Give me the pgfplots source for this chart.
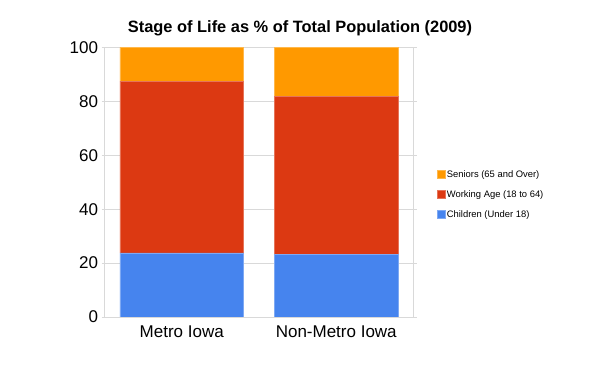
\documentclass[border=0pt]{standalone}
\usepackage{fontspec}
\setmainfont{Liberation Sans}
\usepackage{pgfplots}
\pgfplotsset{compat=1.18}
\definecolor{cSen}{HTML}{FF9900}
\definecolor{cWork}{HTML}{DC3912}
\definecolor{cChild}{HTML}{4684EE}
\definecolor{gridc}{HTML}{D9D9D9}
\begin{document}
\begin{tikzpicture}
\useasboundingbox (0pt,0pt) rectangle (596pt,374pt);
\node[font=\fontsize{16.4}{18}\selectfont\bfseries] at (300pt,345.5pt) {Stage of Life as \% of Total Population (2009)};
\begin{axis}[
  at={(104.5pt,57pt)}, anchor=south west, scale only axis,
  width=309pt, height=269.5pt,
  ybar stacked, bar width=0.8,
  xmin=-0.5, xmax=1.5, ymin=0, ymax=100,
  ytick={0,20,...,100},
  xtick={0,1}, xticklabels={Metro Iowa, Non-Metro Iowa},
  xtick style={draw=none},
  ytick style={draw=gridc},
  tick align=outside, major tick length=3pt,
  ymajorgrids, grid style={gridc, line width=0.8pt},
  axis line style={gridc, line width=0.8pt},
  /pgf/number format/assume math mode=true,
  ticklabel style={font=\fontsize{17}{20}\selectfont},
  xticklabel style={yshift=-2pt},
  legend style={at={(1.065,0.557)}, anchor=north west, draw=none, fill=none,
    font=\fontsize{9.4}{11}\selectfont, row sep=8.5pt,
    nodes={inner sep=1.5pt}},
  legend cell align=left,
  reverse legend,
  legend image code/.code={\fill[#1] (0pt,-4pt) rectangle (8pt,4pt);},
]
\addplot[fill=cChild, draw=cChild!70!white, line width=0.6pt] coordinates {(0,23.8) (1,23.3)};
\addplot[fill=cWork, draw=cWork!70!white, line width=0.6pt] coordinates {(0,63.7) (1,58.7)};
\addplot[fill=cSen, draw=cSen!70!white, line width=0.6pt] coordinates {(0,12.5) (1,18.0)};
\legend{Children (Under 18), Working Age (18 to 64), Seniors (65 and Over)}
\end{axis}
\end{tikzpicture}
\end{document}
